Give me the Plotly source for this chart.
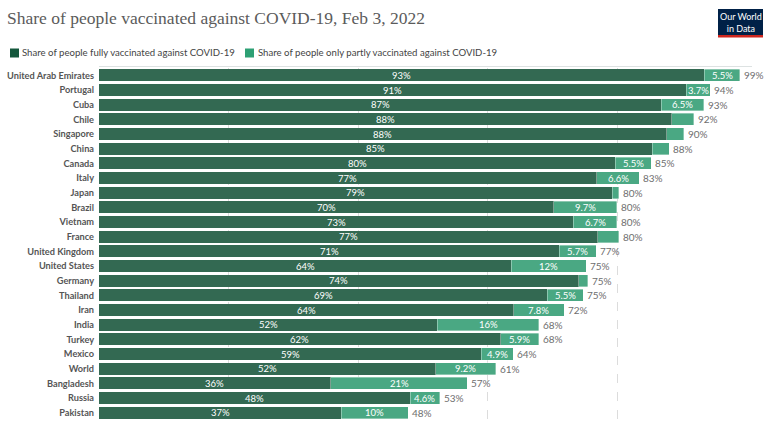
import plotly.graph_objects as go

countries = ["United Arab Emirates", "Portugal", "Cuba", "Chile", "Singapore", "China",
             "Canada", "Italy", "Japan", "Brazil", "Vietnam", "France", "United Kingdom",
             "United States", "Germany", "Thailand", "Iran", "India", "Turkey", "Mexico",
             "World", "Bangladesh", "Russia", "Pakistan"]
fully = [93.4, 90.6, 86.8, 88.4, 87.6, 85.4, 79.7, 76.8, 79.2, 70.2, 73.2, 77.0, 71.0,
         63.6, 74.0, 69.2, 64.0, 52.2, 62.0, 59.0, 52.0, 35.8, 48.0, 37.4]
partly = [5.5, 3.7, 6.5, 3.4, 2.6, 2.6, 5.5, 6.6, 1.0, 9.7, 6.7, 3.2, 5.7,
          11.6, 1.4, 5.5, 7.8, 15.7, 5.9, 4.9, 9.2, 21.0, 4.6, 10.3]

title = "Share of people vaccinated against COVID-19, Feb 3, 2022"
legend_names = ["Share of people fully vaccinated against COVID-19",
                "Share of people only partly vaccinated against COVID-19"]

DARK = "#336952"
LIGHT = "#4aa883"
LEG_DARK = "#14573c"
LEG_LIGHT = "#2da074"


def fmt(v):
    return f"{v:.0f}%" if v >= 10 else f"{v:.1f}%"


fig = go.Figure()
fig.add_trace(go.Bar(y=countries, x=fully, orientation="h", marker=dict(color=DARK, line=dict(width=0)),
                     name=legend_names[0], showlegend=False, hoverinfo="skip"))
fig.add_trace(go.Bar(y=countries, x=partly, orientation="h",
                     marker=dict(color=LIGHT, line=dict(width=0.6, color="rgba(255,255,255,0.6)")),
                     name=legend_names[1], showlegend=False, hoverinfo="skip"))

ann = []
for c, f, p in zip(countries, fully, partly):
    ann.append(dict(x=f / 2, y=c, xref="x", yref="y", text=fmt(f), showarrow=False,
                    font=dict(family="Lato", size=9.5, color="white")))
    if p >= 3.5:
        ann.append(dict(x=f + p / 2, y=c, xref="x", yref="y", text=fmt(p), showarrow=False,
                        font=dict(family="Lato", size=9.5, color="white")))
    ann.append(dict(x=f + p, y=c, xref="x", yref="y", text=fmt(f + p), showarrow=False,
                    xanchor="left", xshift=2,
                    font=dict(family="Lato", size=10, color="#6e6e6e")))

# pixel-positioned texts
ann.append(dict(x=5, y=18, text=title, showarrow=False, xanchor="left", yanchor="middle",
                font=dict(family="Liberation Serif", size=17.5, color="#5b5b5b")))
ann.append(dict(x=20, y=53, text=legend_names[0], showarrow=False, xanchor="left", yanchor="middle",
                font=dict(family="Lato", size=9.6, color="#444")))
ann.append(dict(x=256, y=53, text=legend_names[1], showarrow=False, xanchor="left", yanchor="middle",
                font=dict(family="Lato", size=9.6, color="#444")))
ann.append(dict(x=740.5, y=22, text="Our World<br>in Data", showarrow=False,
                xanchor="center", yanchor="middle",
                font=dict(family="Lato", size=9, color="white")))

W, H = 768, 423
ML, MR, MT, MB = 99, 21, 68, 3
pw, ph = W - ML - MR, H - MT - MB
for a in ann:
    if a.get("xref") == "x":
        continue
    px, py = a["x"], a["y"]
    a["xref"] = "paper"
    a["yref"] = "paper"
    a["x"] = (px - ML) / pw
    a["y"] = 1 - (py - MT) / ph


def px2paper(x, y):
    return (x - ML) / pw, 1 - (y - MT) / ph


shapes = []
for (x0, x1), col in [((10, 19), LEG_DARK), ((245, 254), LEG_LIGHT)]:
    a0, b0 = px2paper(x0, 57.5)
    a1, b1 = px2paper(x1, 48.5)
    shapes.append(dict(type="rect", xref="paper", yref="paper", x0=a0, x1=a1, y0=b0, y1=b1,
                       fillcolor=col, line=dict(width=0)))
a0, b0 = px2paper(718, 35)
a1, b1 = px2paper(763, 9)
shapes.append(dict(type="rect", xref="paper", yref="paper", x0=a0, x1=a1, y0=b0, y1=b1,
                   fillcolor="#002147", line=dict(width=0)))
a0, b0 = px2paper(718, 37.5)
a1, b1 = px2paper(763, 35)
shapes.append(dict(type="rect", xref="paper", yref="paper", x0=a0, x1=a1, y0=b0, y1=b1,
                   fillcolor="#ce261e", line=dict(width=0)))
a0, b0 = px2paper(99, 66.5)
a1, _ = px2paper(752, 66.5)
shapes.append(dict(type="line", xref="paper", yref="paper", x0=a0, x1=a1, y0=b0, y1=b0,
                   line=dict(color="#dde2e2", width=1)))

fig.update_layout(
    barmode="stack",
    bargap=0.17,
    width=W, height=H,
    margin=dict(l=ML, r=MR, t=MT, b=MB, pad=0),
    plot_bgcolor="white", paper_bgcolor="white",
    showlegend=False,
    annotations=ann,
    shapes=shapes,
    xaxis=dict(range=[0, 100], dtick=20, showgrid=True, gridcolor="#dcdcdc", griddash="dash",
               gridwidth=1, zeroline=False, showticklabels=False, ticks="", fixedrange=True),
    yaxis=dict(categoryorder="array", categoryarray=countries, range=[len(countries) - 0.5, -0.5],
               tickfont=dict(family="Lato", size=9.2, color="#555", weight=700), ticks="",
               ticklabelstandoff=4, showgrid=False, zeroline=False, fixedrange=True),
)

fig.write_html("out.html", config={"displayModeBar": False},
               post_script="document.body.style.margin='0';document.body.style.overflow='hidden';")
